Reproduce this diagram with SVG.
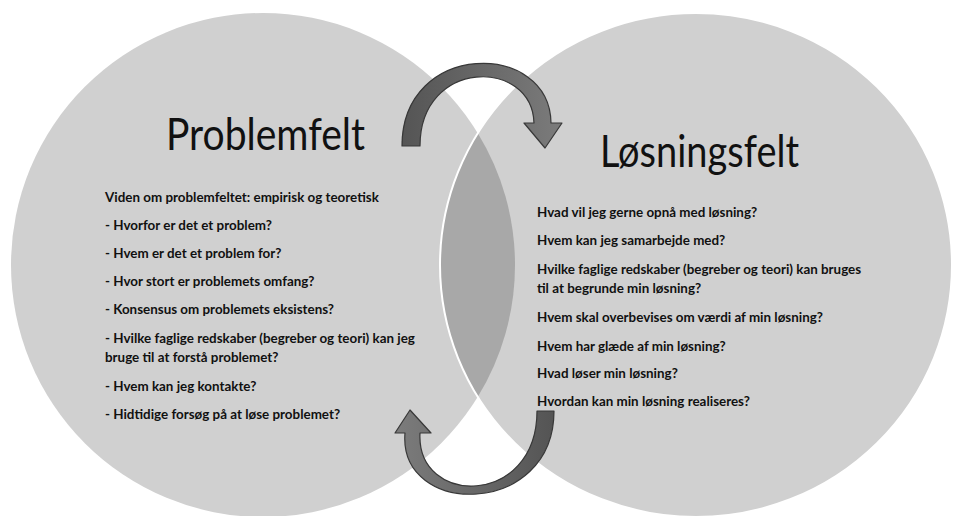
<svg xmlns="http://www.w3.org/2000/svg" width="953" height="516" viewBox="0 0 953 516">
<style>
.field{fill:#d0d0d0;}
.lens{fill:#a8a8a8;}
.title{font-family:Lato,"Open Sans","Liberation Sans",sans-serif;font-size:44px;fill:#111;}
.body{font-family:Lato,"Open Sans","Liberation Sans",sans-serif;font-size:13.4px;font-weight:bold;fill:#111;}
.arrow{stroke:#383838;stroke-width:1.2;stroke-linejoin:round;}
</style>
<defs>
<linearGradient id="gTop" x1="400" y1="0" x2="565" y2="0" gradientUnits="userSpaceOnUse">
<stop offset="0" stop-color="#545454"/><stop offset="1" stop-color="#7c7c7c"/>
</linearGradient>
<linearGradient id="gBot" x1="555" y1="0" x2="395" y2="0" gradientUnits="userSpaceOnUse">
<stop offset="0" stop-color="#545454"/><stop offset="1" stop-color="#7c7c7c"/>
</linearGradient>
</defs>
<g id="problemfelt">
<circle class="field" cx="263" cy="265" r="252"/>
</g>
<g id="losningsfelt">
<ellipse class="field" cx="696" cy="265" rx="256" ry="252"/>
</g>
<g id="overlap">
<path class="lens" d="M477.8,133.2 A252,252 0 0 1 477.8,396.8 A256,252 0 0 1 477.8,133.2 Z"/>
<ellipse cx="696" cy="265" rx="256" ry="252" fill="none" stroke="#ffffff" stroke-width="2"/>
</g>
<g id="connectors">
<path class="arrow" fill="url(#gTop)" d="M402,146 C402,40 550,40 551,123 L562,123 L545,148 L524,123 L534,123 C532,58 420,58 420,146 Z"/>
<path class="arrow" fill="url(#gBot)" d="M554,411 C554,518 398,518 405,433 L395,433 L410,410 L431,433 L420,433 C416,507 537,507 537,411 Z"/>
</g>
<g id="problemfelt-text">
<text class="title" x="166" y="150" textLength="199" lengthAdjust="spacingAndGlyphs">Problemfelt</text>
<text class="body" x="105" y="202">Viden om problemfeltet: empirisk og teoretisk</text>
<text class="body" x="105" y="230">- Hvorfor er det et problem?</text>
<text class="body" x="105" y="258">- Hvem er det et problem for?</text>
<text class="body" x="105" y="286">- Hvor stort er problemets omfang?</text>
<text class="body" x="105" y="314">- Konsensus om problemets eksistens?</text>
<text class="body" x="105" y="343">- Hvilke faglige redskaber (begreber og teori) kan jeg</text>
<text class="body" x="105" y="362">bruge til at forstå problemet?</text>
<text class="body" x="105" y="391">- Hvem kan jeg kontakte?</text>
<text class="body" x="105" y="419">- Hidtidige forsøg på at løse problemet?</text>
</g>
<g id="losningsfelt-text">
<text class="title" x="600" y="167" textLength="199" lengthAdjust="spacingAndGlyphs">Løsningsfelt</text>
<text class="body" x="537" y="217">Hvad vil jeg gerne opnå med løsning?</text>
<text class="body" x="537" y="245">Hvem kan jeg samarbejde med?</text>
<text class="body" x="537" y="274">Hvilke faglige redskaber (begreber og teori) kan bruges</text>
<text class="body" x="537" y="293">til at begrunde min løsning?</text>
<text class="body" x="537" y="322">Hvem skal overbevises om værdi af min løsning?</text>
<text class="body" x="537" y="351">Hvem har glæde af min løsning?</text>
<text class="body" x="537" y="378">Hvad løser min løsning?</text>
<text class="body" x="537" y="406">Hvordan kan min løsning realiseres?</text>
</g>
</svg>
